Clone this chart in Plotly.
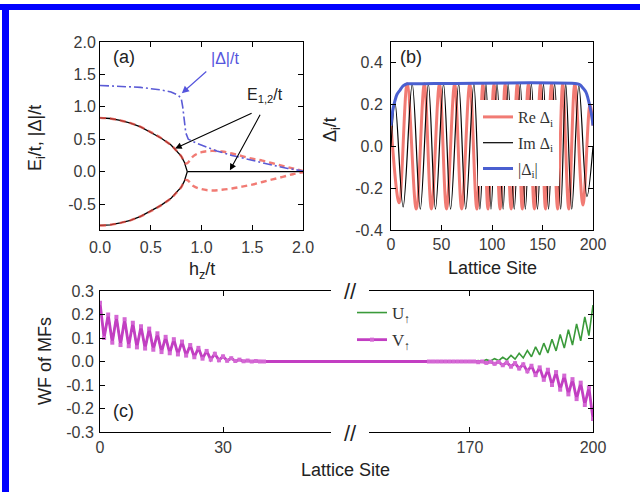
import plotly.graph_objects as go

W, H = 640, 492


def fx(p):
    return p / W


def fy(p):
    return (H - p) / H


# ---------------- Panel (a) data ----------------
hz_E = [0.0, 0.1, 0.2, 0.3, 0.4, 0.5, 0.6, 0.7, 0.75, 0.8, 0.83, 0.85, 0.86]
E_up = [0.83, 0.82, 0.79, 0.75, 0.69, 0.61, 0.52, 0.41, 0.33, 0.24, 0.15, 0.06, 0.0]
E_lo = [-0.83, -0.82, -0.79, -0.75, -0.69, -0.61, -0.52, -0.41, -0.33, -0.24, -0.15, -0.06, 0.0]
hz_E0 = [0.86, 2.0]
E_zero = [0.0, 0.0]

hz_R = [0.0, 0.1, 0.2, 0.3, 0.4, 0.5, 0.6, 0.7, 0.75, 0.8, 0.84, 0.86, 0.92, 1.0, 1.1,
        1.2, 1.3, 1.4, 1.5, 1.6, 1.7, 1.8, 1.9, 2.0]
R_up = [0.83, 0.82, 0.79, 0.75, 0.69, 0.61, 0.52, 0.41, 0.33, 0.24, 0.13, 0.13, 0.24, 0.3, 0.32,
        0.31, 0.28, 0.24, 0.2, 0.17, 0.13, 0.09, 0.05, 0.01]
R_lo = [-0.83, -0.82, -0.79, -0.75, -0.69, -0.61, -0.52, -0.41, -0.33, -0.24, -0.13, -0.13, -0.22,
        -0.27, -0.29, -0.28, -0.26, -0.23, -0.2, -0.16, -0.12, -0.08, -0.04, -0.01]

hz_D = [0.0, 0.2, 0.4, 0.6, 0.7, 0.77, 0.8, 0.815, 0.83, 0.845, 0.87, 0.95, 1.05, 1.15, 1.3,
        1.5, 1.7, 1.85, 2.0]
D_abs = [1.33, 1.32, 1.3, 1.26, 1.23, 1.18, 1.13, 1.0, 0.8, 0.6, 0.5, 0.44, 0.38, 0.32, 0.25,
         0.17, 0.1, 0.05, 0.01]

a_xticks = [0.0, 0.5, 1.0, 1.5, 2.0]
a_xlabels = ["0.0", "0.5", "1.0", "1.5", "2.0"]
a_yticks = [-0.5, 0.0, 0.5, 1.0, 1.5, 2.0]
a_ylabels = ["-0.5", "0.0", "0.5", "1.0", "1.5", "2.0"]

# ---------------- Panel (b) data ----------------
im_sites = [0, 4, 12, 21, 29, 37, 44, 52, 59, 67, 74, 82, 88, 94, 99, 105, 111, 116, 122,
            128, 133, 139, 145, 151, 156, 162, 168, 173, 179, 186, 194, 200]
im_vals = [0.0, 0.21, -0.29, 0.3, -0.3, 0.3, -0.3, 0.3, -0.3, 0.3, -0.3, 0.3, -0.3, 0.3, -0.3,
           0.3, -0.3, 0.3, -0.3, 0.3, -0.3, 0.3, -0.3, 0.3, -0.3, 0.3, -0.3, 0.3, -0.3, 0.29,
           -0.24, 0.0]
re_sites = [0, 8, 16, 25, 33, 40, 48, 55, 63, 70, 78, 85, 91, 96, 102, 108, 113, 119, 125,
            130, 136, 142, 148, 153, 159, 165, 170, 176, 182, 190, 197, 200]
re_vals = [0.1, -0.27, 0.3, -0.3, 0.3, -0.3, 0.3, -0.3, 0.3, -0.3, 0.3, -0.3, 0.3, -0.3, 0.3,
           -0.3, 0.3, -0.3, 0.3, -0.3, 0.3, -0.3, 0.3, -0.3, 0.3, -0.3, 0.3, -0.3, 0.3, -0.28,
           0.2, 0.1]
abs_sites = [0, 2, 4, 6, 9, 12, 16, 20, 184, 187, 190, 193, 195, 197, 199, 200]
abs_vals = [0.1, 0.18, 0.22, 0.25, 0.27, 0.29, 0.3, 0.3, 0.3, 0.295, 0.28, 0.26, 0.23, 0.19,
            0.14, 0.1]

b_xticks = [0, 50, 100, 150, 200]
b_xlabels = ["0", "50", "100", "150", "200"]
b_yticks = [-0.4, -0.2, 0.0, 0.2, 0.4]
b_ylabels = ["-0.4", "-0.2", "0.0", "0.2", "0.4"]

# ---------------- Panel (c) data ----------------
left_sites = list(range(0, 41))
v_left = [0.25, 0.10, 0.20, 0.08, 0.19, 0.07, 0.18, 0.065, 0.165, 0.06, 0.15, 0.055, 0.14,
          0.05, 0.12, 0.04, 0.105, 0.035, 0.095, 0.03, 0.085, 0.025, 0.07, 0.018, 0.058,
          0.012, 0.045, 0.008, 0.033, 0.005, 0.022, 0.003, 0.014, 0.002, 0.008, 0.001, 0.004,
          0.0, 0.002, 0.0, 0.0]
u_left = [0.25, 0.10, 0.20, 0.08, 0.19, 0.07, 0.18, 0.065, 0.165, 0.06, 0.15, 0.055, 0.14,
          0.05, 0.12, 0.04, 0.105, 0.035, 0.095, 0.03, 0.085, 0.025, 0.07, 0.018, 0.058,
          0.012, 0.045, 0.008, 0.033, 0.005, 0.022, 0.003, 0.014, 0.002, 0.008, 0.001, 0.004,
          0.0, 0.002, 0.0, 0.0]
right_sites = list(range(160, 201))
v_right = [0.0, 0.0, 0.0, 0.0, 0.0, 0.0, 0.0, 0.0, 0.0, 0.0, 0.0,
           0.0, -0.003, 0.0, -0.006, -0.001, -0.01, -0.002, -0.016, -0.004, -0.022, -0.007,
           -0.03, -0.012, -0.042, -0.018, -0.058, -0.025, -0.078, -0.035, -0.1, -0.045, -0.12,
           -0.06, -0.14, -0.075, -0.16, -0.09, -0.185, -0.11, -0.245]
u_right = [0.0, 0.0, 0.0, 0.0, 0.0, 0.0, 0.0, 0.0, 0.0, 0.0, 0.0,
           0.0, 0.004, 0.0, 0.008, 0.002, 0.012, 0.004, 0.018, 0.007, 0.026, 0.01, 0.035,
           0.015, 0.047, 0.02, 0.062, 0.028, 0.078, 0.036, 0.095, 0.045, 0.115, 0.057, 0.135,
           0.07, 0.16, 0.088, 0.19, 0.11, 0.24]

c_yticks = [-0.3, -0.2, -0.1, 0.0, 0.1, 0.2, 0.3]
c_ylabels = ["-0.3", "-0.2", "-0.1", "0.0", "0.1", "0.2", "0.3"]
c_left_ticks = [0, 30]
c_right_ticks = [170, 200]

# ---------------- figure ----------------
RED = "rgba(236,72,62,0.72)"
BLUE_D = "#5b5bd6"
GREEN = "#3a9a3a"
MAG = "#c23ec2"

fig = go.Figure()

# (a)
fig.add_trace(go.Scatter(x=hz_E, y=E_up, mode="lines", line=dict(color="black", width=1.3),
                         xaxis="x", yaxis="y", showlegend=False))
fig.add_trace(go.Scatter(x=hz_E, y=E_lo, mode="lines", line=dict(color="black", width=1.3),
                         xaxis="x", yaxis="y", showlegend=False))
fig.add_trace(go.Scatter(x=hz_E0, y=E_zero, mode="lines", line=dict(color="black", width=1.3),
                         xaxis="x", yaxis="y", showlegend=False))
fig.add_trace(go.Scatter(x=hz_R, y=R_up, mode="lines", line=dict(color=RED, width=2.4, dash="6px,4px", shape="spline"),
                         xaxis="x", yaxis="y", showlegend=False))
fig.add_trace(go.Scatter(x=hz_R, y=R_lo, mode="lines", line=dict(color=RED, width=2.4, dash="6px,4px", shape="spline"),
                         xaxis="x", yaxis="y", showlegend=False))
fig.add_trace(go.Scatter(x=hz_D, y=D_abs, mode="lines",
                         line=dict(color=BLUE_D, width=1.6, dash="9px,3px,2px,3px"),
                         xaxis="x", yaxis="y", showlegend=False))

# (b)
fig.add_trace(go.Scatter(x=re_sites, y=re_vals, mode="lines", name="Re Δ<sub>i</sub>",
                         line=dict(color=RED, width=3, shape="spline", smoothing=1.0),
                         xaxis="x2", yaxis="y2", legendgroup="g1", legend="legend"))
fig.add_trace(go.Scatter(x=im_sites, y=im_vals, mode="lines", name="Im Δ<sub>i</sub>",
                         line=dict(color="black", width=1.2, shape="spline", smoothing=1.0),
                         xaxis="x2", yaxis="y2", legendgroup="g2", legend="legend"))
fig.add_trace(go.Scatter(x=abs_sites, y=abs_vals, mode="lines", name="|Δ<sub>i</sub>|",
                         line=dict(color="#4a5fd0", width=3, shape="spline"),
                         xaxis="x2", yaxis="y2", legendgroup="g3", legend="legend"))

# (c) left and right pieces of the broken axis
u_sites = left_sites + right_sites
u_vals = u_left + u_right
v_sites = left_sites + right_sites
v_vals = v_left + v_right
for xa, ya, show in (("x3", "y3", True), ("x4", "y4", False)):
    fig.add_trace(go.Scatter(x=u_sites, y=u_vals, mode="lines", name="U<sub>↑</sub>",
                             line=dict(color=GREEN, width=1.6),
                             xaxis=xa, yaxis=ya, showlegend=show, legend="legend2",
                             legendgroup="u"))
    fig.add_trace(go.Scatter(x=v_sites, y=v_vals, mode="lines+markers", name="V<sub>↑</sub>",
                             line=dict(color=MAG, width=2.8),
                             marker=dict(symbol="square", size=4, color="#d468d4"),
                             xaxis=xa, yaxis=ya, showlegend=show, legend="legend2",
                             legendgroup="v"))

TICKFONT = dict(family="Liberation Sans, Arial, sans-serif", size=16, color="#3a3a3a")
common = dict(showline=True, linecolor="black", linewidth=1, ticks="inside", ticklen=5,
              tickcolor="black", showgrid=False, zeroline=False, tickfont=TICKFONT,
              automargin=False)

fig.update_layout(
    width=W, height=H, margin=dict(l=0, r=0, t=0, b=0, pad=0, autoexpand=False),
    paper_bgcolor="white", plot_bgcolor="white",
    xaxis=dict(domain=[fx(100), fx(303)], range=[0, 2.0], anchor="y", mirror="ticks",
               tickvals=a_xticks, ticktext=a_xlabels, ticklabelstandoff=3, **common),
    yaxis=dict(domain=[fy(230), fy(42)], range=[-0.9, 2.0], anchor="x", mirror="ticks",
               tickvals=a_yticks, ticktext=a_ylabels, ticklabelstandoff=0, **common),
    xaxis2=dict(domain=[fx(391), fx(593)], range=[0, 200], anchor="y2", mirror="ticks",
                tickvals=b_xticks, ticktext=b_xlabels, ticklabelstandoff=0, **common),
    yaxis2=dict(domain=[fy(230), fy(42)], range=[-0.4, 0.5], anchor="x2", mirror="ticks",
                tickvals=b_yticks, ticktext=b_ylabels, ticklabelstandoff=4, **common),
    xaxis3=dict(domain=[fx(100), fx(351)], range=[0, 61.2], anchor="y3", mirror="ticks",
                tickvals=c_left_ticks, ticktext=[str(v) for v in c_left_ticks],
                ticklabelstandoff=1, **common),
    yaxis3=dict(domain=[fy(432), fy(291)], range=[-0.3, 0.3], anchor="x3",
                tickvals=c_yticks, ticktext=c_ylabels, ticklabelstandoff=2, **common),
    xaxis4=dict(domain=[fx(351), fx(593)], range=[141, 200], anchor="y4", mirror="ticks",
                tickvals=c_right_ticks, ticktext=[str(v) for v in c_right_ticks],
                ticklabelstandoff=1, **common),
    yaxis4=dict(domain=[fy(432), fy(291)], range=[-0.3, 0.3], anchor="x4", side="right",
                tickvals=c_yticks, showticklabels=False, **common),
    legend=dict(x=fx(478), y=fy(100), xanchor="left", yanchor="top",
                bgcolor="white", borderwidth=0, traceorder="grouped", tracegroupgap=2,
                itemwidth=30,
                font=dict(family="Liberation Serif, Times New Roman, serif", size=16, color="#333")),
    legend2=dict(x=fx(352), y=fy(295), xanchor="left", yanchor="top",
                 bgcolor="rgba(0,0,0,0)", borderwidth=0, traceorder="grouped", tracegroupgap=2,
                 itemwidth=30,
                 font=dict(family="Liberation Serif, Times New Roman, serif", size=17, color="#333")),
)

LBL = dict(family="Liberation Sans, Arial, sans-serif", size=18, color="#222")


def note(text, px, py, font=LBL, angle=0):
    return dict(text=text, x=fx(px), y=fy(py), xref="paper", yref="paper", showarrow=False,
                xanchor="center", yanchor="middle", textangle=angle, font=font)


ann = [
    note("(a)", 124, 57),
    note("(b)", 411, 57),
    note("(c)", 123, 411),
    note("E<sub>i</sub>/t, |Δ|/t", 36, 138, angle=-90),
    note("h<sub>z</sub>/t", 202, 270),
    note("Δ<sub>i</sub>/t", 331, 130, angle=-90),
    note("Lattice Site", 492, 268),
    note("WF of MFs", 45, 361, angle=-90),
    note("Lattice Site", 345, 470),
    note("|Δ|/t", 225, 58, font=dict(family="Liberation Sans, Arial, sans-serif", size=16, color="#5555dd")),
    note("E<sub>1,2</sub>/t", 265, 96, font=dict(family="Liberation Sans, Arial, sans-serif", size=16, color="#222")),
]
ann.append(dict(text="", x=0.806, y=1.21, xref="x", yref="y", showarrow=True, ax=26, ay=-23,
                arrowhead=2, arrowsize=1.2, arrowwidth=1.2, arrowcolor="#5555dd"))
ann.append(dict(text="", x=0.74, y=0.356, xref="x", yref="y", showarrow=True, ax=78, ay=-36,
                arrowhead=2, arrowsize=1.2, arrowwidth=1.1, arrowcolor="black"))
ann.append(dict(text="", x=1.28, y=0.02, xref="x", yref="y", showarrow=True, ax=31, ay=-57,
                arrowhead=2, arrowsize=1.2, arrowwidth=1.1, arrowcolor="black"))
# axis break marks
for yy in (291, 433):
    ann.append(note("//", 350, yy, font=dict(family="Liberation Sans, Arial, sans-serif", size=22, color="#222")))
fig.update_layout(annotations=ann)

shapes = []
# gaps in the broken axis frame
for y0, y1 in ((286, 296), (427, 437)):
    shapes.append(dict(type="rect", xref="paper", yref="paper", x0=fx(331), x1=fx(369),
                       y0=fy(y1), y1=fy(y0), fillcolor="white", line=dict(width=0), layer="above"))
# blue frame (top and left bands)
shapes.append(dict(type="rect", xref="paper", yref="paper", x0=0, x1=1, y0=fy(10), y1=fy(4),
                   fillcolor="#0000ff", line=dict(width=0), layer="above"))
shapes.append(dict(type="rect", xref="paper", yref="paper", x0=fx(2), x1=fx(9), y0=0, y1=fy(4),
                   fillcolor="#0000ff", line=dict(width=0), layer="above"))
fig.update_layout(shapes=shapes)

fig.write_html("out.html", config={"displayModeBar": False},
               post_script="document.body.style.margin='0px';document.body.style.overflow='hidden';")
